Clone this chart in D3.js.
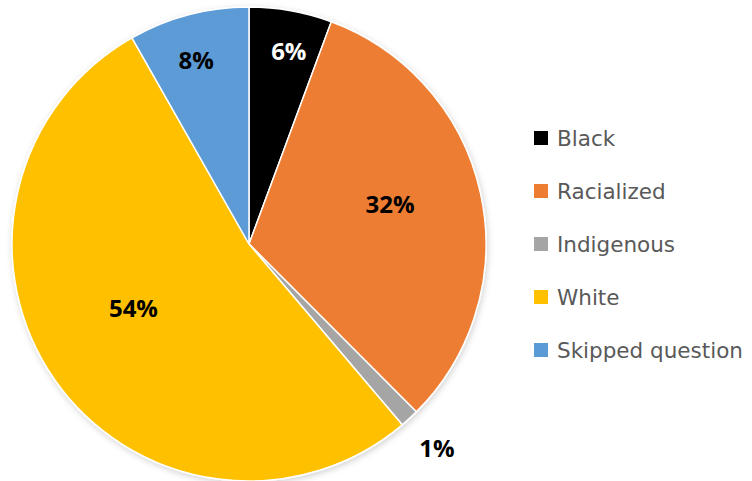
<!DOCTYPE html>
<html>
<head>
<meta charset="utf-8">
<script src="https://cdn.jsdelivr.net/npm/d3@7"></script>
<style>
  body { margin: 0; background: #fff; }
  svg { display: block; }
</style>
</head>
<body>
<div id="chart"></div>
<script>
// data
const categories = ["Black", "Racialized", "Indigenous", "White", "Skipped question"];
const values = [5.7, 32.2, 1.3, 53.5, 8.3];
const colors = ["#000000", "#ED7D31", "#A5A5A5", "#FFC000", "#5B9BD5"];
const labelColors = ["#ffffff", "#000000", "#000000", "#000000", "#000000"];

// label placement (polar: radius px, angle deg clockwise from 12 o'clock)
const labelPolar = [[198, 11.6], [147, 73.8], [277, 137.3], [132, 241.1], [192, 344]];

const W = 752, H = 481;
const cx = 249, cy = 244, R = 237;

const svg = d3.select("#chart").append("svg")
  .attr("width", W)
  .attr("height", H);

const defs = svg.append("defs");
defs.append("filter")
    .attr("id", "shadow")
    .attr("x", "-10%").attr("y", "-10%")
    .attr("width", "120%").attr("height", "120%")
  .append("feDropShadow")
    .attr("dx", 1).attr("dy", 2)
    .attr("stdDeviation", 3)
    .attr("flood-color", "#000")
    .attr("flood-opacity", 0.18);

const rows = categories.map((c, i) => ({ cat: c, val: values[i], i }));

const pie = d3.pie()
  .sort(null)
  .value(d => d.val);

const arc = d3.arc()
  .innerRadius(0)
  .outerRadius(R);

const g = svg.append("g")
  .attr("transform", `translate(${cx},${cy})`);

g.append("g")
    .attr("filter", "url(#shadow)")
  .selectAll("path")
  .data(pie(rows))
  .join("path")
    .attr("d", arc)
    .attr("fill", d => colors[d.data.i])
    .attr("stroke", "#ffffff")
    .attr("stroke-width", 1.5)
    .attr("stroke-linejoin", "round");

// percentage labels
g.selectAll(".lbl")
  .data(pie(rows))
  .join("text")
    .attr("class", "lbl")
    .attr("x", d => {
      const [r, a] = labelPolar[d.data.i];
      return r * Math.sin(a * Math.PI / 180);
    })
    .attr("y", d => {
      const [r, a] = labelPolar[d.data.i];
      return -r * Math.cos(a * Math.PI / 180);
    })
    .attr("text-anchor", "middle")
    .attr("dominant-baseline", "central")
    .style("font-family", "'Open Sans', sans-serif")
    .style("font-weight", 700)
    .style("font-size", "24px")
    .attr("fill", d => labelColors[d.data.i])
    .text(d => Math.round(d.data.val) + "%");

// legend
const legend = svg.append("g")
  .attr("transform", "translate(534,138)");

const item = legend.selectAll(".legend-item")
  .data(rows)
  .join("g")
    .attr("class", "legend-item")
    .attr("transform", (d, i) => `translate(0,${i * 53})`);

item.append("rect")
  .attr("x", 0)
  .attr("y", -7)
  .attr("width", 14)
  .attr("height", 14)
  .attr("fill", d => colors[d.i]);

item.append("text")
  .attr("x", 23)
  .attr("y", 0)
  .attr("dominant-baseline", "central")
  .style("font-family", "'DejaVu Sans', sans-serif")
  .style("font-size", "21.5px")
  .attr("fill", "#595959")
  .text(d => d.cat);
</script>
</body>
</html>
